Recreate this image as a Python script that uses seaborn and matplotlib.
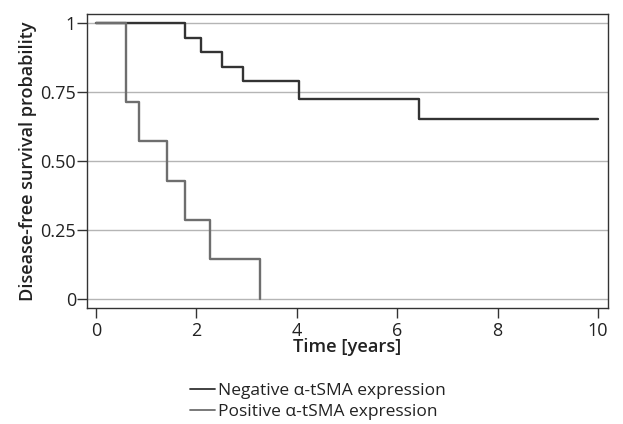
import matplotlib
matplotlib.use("Agg")
import matplotlib.pyplot as plt
import seaborn as sns
import pandas as pd
from matplotlib.lines import Line2D

neg_time = [0.0, 1.77, 2.09, 2.50, 2.93, 4.04, 6.43, 10.0]
neg_surv = [1.0, 0.947, 0.895, 0.842, 0.789, 0.725, 0.652, 0.652]
pos_time = [0.0, 0.59, 0.85, 1.42, 1.77, 2.27, 3.27]
pos_surv = [1.0, 0.714, 0.571, 0.429, 0.286, 0.143, 0.0]
labels = ["Negative α-tSMA expression", "Positive α-tSMA expression"]
yticks = [0, 0.25, 0.5, 0.75, 1]
ytick_labels = ["0", "0.25", "0.50", "0.75", "1"]
xticks = [0, 2, 4, 6, 8, 10]

sns.set_style("white")
plt.rcParams['font.family'] = ['Open Sans', 'DejaVu Sans']

df = pd.concat([
    pd.DataFrame({"t": neg_time, "s": neg_surv, "g": labels[0]}),
    pd.DataFrame({"t": pos_time, "s": pos_surv, "g": labels[1]}),
])

fig = plt.figure(figsize=(6.23, 4.24), dpi=100)
ax = fig.add_axes([87/623, 1-308/424, (608-87)/623, (308-14)/424])
for y in yticks:
    ax.axhline(y, color="#b5b5b5", lw=1.0, zorder=0)
sns.lineplot(data=df, x="t", y="s", hue="g", palette=["#333333", "#6e6e6e"],
             drawstyle="steps-post", estimator=None, sort=False, lw=1.7, ax=ax, legend=False)
ax.set_xlim(-0.18, 10.2)
ax.set_ylim(-0.033, 1.033)
ax.set_yticks(yticks)
ax.set_yticklabels(ytick_labels)
ax.set_xticks(xticks)
for sp in ax.spines.values():
    sp.set_color("#333333")
    sp.set_linewidth(1.0)
ax.tick_params(axis="both", direction="out", length=7, width=1, color="#333333",
               labelsize=13, labelcolor="#222222", bottom=True, left=True, pad=1)
ax.tick_params(axis="x", pad=3)
ax.set_xlabel("Time [years]", fontsize=13.2, fontweight="semibold", labelpad=-1, color="#222222")
ax.set_ylabel("Disease-free survival probability", fontsize=13, fontweight="semibold", labelpad=2, color="#222222")

handles = [Line2D([], [], color="#333333", lw=1.3), Line2D([], [], color="#6e6e6e", lw=1.3)]
fig.legend(handles, labels, loc="upper left", bbox_to_anchor=(181/623, 1-374/424), frameon=False,
           fontsize=12.5, handlelength=1.45, handletextpad=0.2, labelspacing=0.3, borderpad=0,
           labelcolor="#222222")
fig.savefig("out.png", dpi=100)
